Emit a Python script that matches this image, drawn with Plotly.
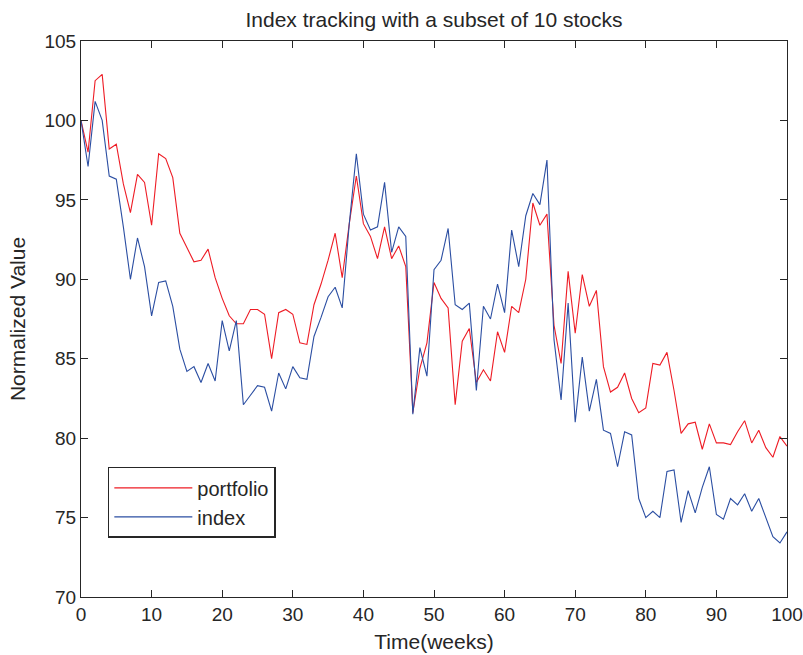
import plotly.graph_objects as go

# Weekly normalized values (week 0 = 100)
weeks = list(range(0, 101))

portfolio = [
    100.0, 98.0, 102.5, 102.9, 98.2, 98.5, 96.0, 94.2, 96.6, 96.1,
    93.4, 97.9, 97.6, 96.4, 92.9, 92.0, 91.1, 91.2, 91.9, 90.1,
    88.8, 87.7, 87.2, 87.2, 88.1, 88.1, 87.8, 85.0, 87.9, 88.1,
    87.8, 86.0, 85.9, 88.4, 89.7, 91.2, 92.9, 90.1, 93.5, 96.5,
    93.5, 92.7, 91.3, 93.3, 91.3, 92.1, 90.8, 81.6, 84.4, 86.0,
    89.8, 88.8, 88.2, 82.1, 86.1, 86.9, 83.5, 84.3, 83.6, 86.7,
    85.4, 88.3, 87.9, 90.0, 94.8, 93.4, 94.1, 87.1, 84.7, 90.5,
    86.6, 90.3, 88.3, 89.3, 84.5, 82.9, 83.2, 84.1, 82.5, 81.6,
    81.9, 84.7, 84.6, 85.4, 83.0, 80.3, 80.9, 81.0, 79.3, 80.9,
    79.7, 79.7, 79.6, 80.4, 81.1, 79.7, 80.5, 79.4, 78.8, 80.1,
    79.5,
]

index = [
    100.0, 97.1, 101.2, 100.0, 96.5, 96.3, 93.3, 90.0, 92.6, 90.8,
    87.7, 89.8, 89.9, 88.3, 85.6, 84.2, 84.5, 83.5, 84.7, 83.6,
    87.4, 85.5, 87.4, 82.1, 82.7, 83.3, 83.2, 81.7, 84.1, 83.1,
    84.5, 83.8, 83.7, 86.4, 87.6, 88.9, 89.5, 88.2, 93.5, 97.9,
    94.1, 93.1, 93.3, 96.1, 91.7, 93.3, 92.7, 81.5, 85.7, 83.9,
    90.6, 91.2, 93.2, 88.4, 88.1, 88.5, 83.0, 88.3, 87.5, 89.7,
    87.9, 93.1, 90.8, 94.0, 95.4, 94.7, 97.5, 86.2, 82.4, 88.5,
    81.0, 85.1, 81.7, 83.7, 80.5, 80.3, 78.2, 80.4, 80.2, 76.2,
    75.0, 75.4, 75.0, 77.9, 78.0, 74.7, 76.7, 75.3, 76.9, 78.2,
    75.2, 74.9, 76.2, 75.8, 76.5, 75.4, 76.2, 75.0, 73.8, 73.4,
    74.1,
]

x_ticks = [0, 10, 20, 30, 40, 50, 60, 70, 80, 90, 100]
y_ticks = [70, 75, 80, 85, 90, 95, 100, 105]

FONT = "Liberation Sans, Arial, Helvetica, sans-serif"
INK = "#262626"

fig = go.Figure()
fig.add_trace(go.Scatter(
    x=weeks, y=portfolio, mode="lines", name="portfolio",
    line=dict(color="#ee1c25", width=1.1),
))
fig.add_trace(go.Scatter(
    x=weeks, y=index, mode="lines", name="index",
    line=dict(color="#2b4ea2", width=1.1),
))

axis_common = dict(
    automargin=False,
    showline=True, linecolor=INK, linewidth=1, mirror="allticks",
    ticks="inside", ticklen=7, tickwidth=1, tickcolor=INK,
    showgrid=False, zeroline=False,
    tickfont=dict(family=FONT, size=19, color=INK),
)

fig.update_layout(
    template="none",
    width=803, height=655,
    margin=dict(l=81, r=16, t=41, b=58),
    paper_bgcolor="white", plot_bgcolor="white",
    title=dict(
        text="Index tracking with a subset of 10 stocks",
        font=dict(family=FONT, size=21, color=INK),
        x=0.5, xref="paper", xanchor="center",
        y=1 - 20 / 655, yanchor="middle",
    ),
    xaxis=dict(
        range=[0, 100], tickvals=x_ticks,
        title=dict(text="Time(weeks)", font=dict(family=FONT, size=21, color=INK), standoff=10),
        **axis_common,
    ),
    yaxis=dict(
        range=[70, 105], tickvals=y_ticks,
        title=dict(text="Normalized Value", font=dict(family=FONT, size=21, color=INK), standoff=13),
        **axis_common,
    ),
    legend=dict(
        x=0.038, y=0.234, xanchor="left", yanchor="top",
        bgcolor="white", bordercolor=INK, borderwidth=1.5,
        font=dict(family=FONT, size=20, color=INK),
        itemwidth=78, traceorder="normal",
    ),
    showlegend=True,
)

fig.write_html("out.html")
